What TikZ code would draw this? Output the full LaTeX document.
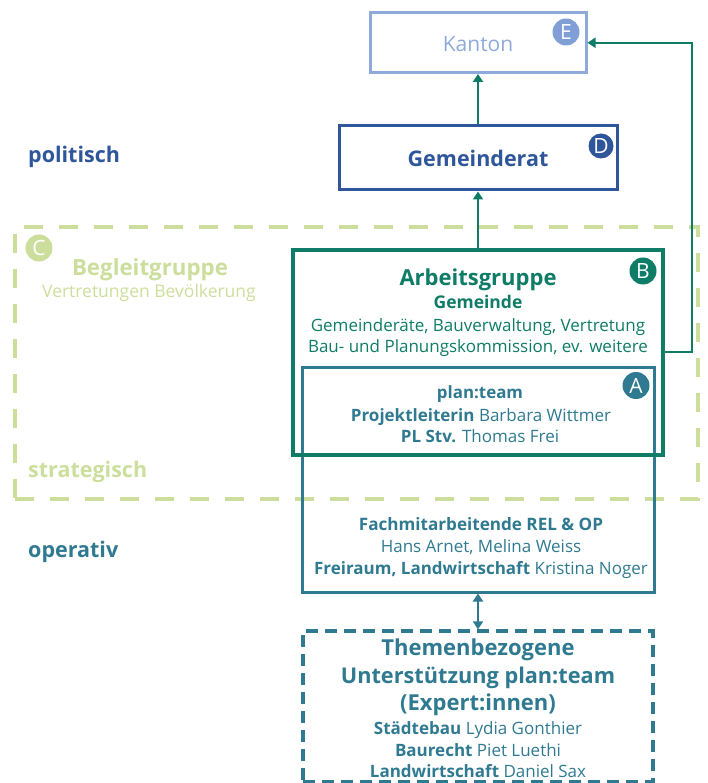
\documentclass[tikz,border=0pt]{standalone}
\usepackage{fontspec}
\setmainfont{Open Sans}
\usetikzlibrary{arrows.meta}
\definecolor{lblue}{HTML}{8EAADB}
\definecolor{ebadge}{HTML}{7F9FD6}
\definecolor{dblue}{HTML}{2F559A}
\definecolor{grn}{HTML}{0E7C66}
\definecolor{tealb}{HTML}{2F7A90}
\definecolor{lgrn}{HTML}{CCDE9C}
\newcommand\myfs[1]{\fontsize{#1}{#1}\selectfont}
\begin{document}
\begin{tikzpicture}[x=1pt,y=-1pt,
  box/.style={draw, rectangle, inner sep=0pt},
  txt/.style={anchor=base, inner sep=0pt},
  side/.style={anchor=base west, inner sep=0pt, font=\bfseries\myfs{21.5}},
  badge/.style={circle, inner sep=0pt, minimum size=27pt, text=white, font=\myfs{21}},
  arr/.style={grn, line width=2pt, -{Triangle[width=10pt,length=8pt]}},
  arrboth/.style={tealb, line width=2pt, {Triangle[width=10pt,length=8pt]}-{Triangle[width=10pt,length=8pt]}}]
\useasboundingbox (0,0) rectangle (707,783);

% Begleitgruppe (dashed)
\node[box, draw=lgrn, line width=4.5pt, dash pattern=on 19pt off 16pt,
      minimum width=683pt, minimum height=272pt] (begleit) at (356.5,363) {};

% boxes
\node[box, draw=lblue, line width=3pt, minimum width=216pt, minimum height=59.5pt] (kanton) at (478,42.75) {};
\node[box, draw=dblue, line width=3pt, minimum width=278pt, minimum height=64pt] (gemrat) at (478,158) {};
\node[box, draw=tealb, line width=3pt, minimum width=352pt, minimum height=225pt] (planteam) at (478,479.5) {};
\node[box, draw=grn, line width=3.2pt, minimum width=370pt, minimum height=205pt] (arbeit) at (478,352.5) {};
\node[box, draw=tealb, line width=3.2pt, dash pattern=on 12pt off 7pt,
      minimum width=350pt, minimum height=151pt] (themen) at (478,706.5) {};

% connectors
\draw[arr] (gemrat.north) -- (kanton.south);
\draw[arr] (arbeit.north) -- (gemrat.south);
\coordinate (bend) at (692,352);
\draw[arr] (arbeit.east |- bend) -- (bend) |- (kanton.east);
\draw[arrboth] (planteam.south) -- (themen.north);

% badges
\node[badge, fill=ebadge] (bE) at (566,32) {E};
\node[badge, fill=dblue, minimum size=25pt] (bD) at (601,146) {D};
\node[badge, fill=lgrn] (bC) at (39,248) {C};
\node[badge, fill=grn] (bB) at (643,271) {B};
\node[badge, fill=tealb] (bA) at (636,385.5) {A};

% texts
\node[txt, text=lblue, font=\myfs{21}] (tkanton) at (478,52) {Kanton};
\node[txt, text=dblue, font=\bfseries\myfs{21.5}] (tgemrat) at (478,167) {Gemeinderat};
\node[side, text=dblue] (tpol) at (28,163) {politisch};

\node[txt, text=lgrn, font=\bfseries\myfs{22.3}] (tbeg1) at (150,275) {Begleitgruppe};
\node[txt, text=lgrn, font=\myfs{17.5}] (tbeg2) at (149,297) {Vertretungen Bevölkerung};
\node[side, text=lgrn] (tstrat) at (28,477) {strategisch};

\node[txt, text=grn, font=\bfseries\myfs{22}] (tag1) at (478,285) {Arbeitsgruppe};
\node[txt, text=grn, font=\bfseries\myfs{17.5}] (tag2) at (478,308) {Gemeinde};
\node[txt, text=grn, font=\myfs{17}] (tag3) at (478,331) {Gemeinderäte, Bauverwaltung, Vertretung};
\node[txt, text=grn, font=\myfs{17}] (tag4) at (478,352) {Bau- und Planungskommission, ev. weitere};

\node[txt, text=tealb, font=\bfseries\myfs{16.9}] (tpt1) at (480,398) {plan:team};
\node[txt, text=tealb, font=\myfs{17}] (tpt2) at (481,421) {\textbf{Projektleiterin} Barbara Wittmer};
\node[txt, text=tealb, font=\myfs{17}] (tpt3) at (480,442) {\textbf{PL Stv.} Thomas Frei};
\node[txt, text=tealb, font=\bfseries\myfs{17.1}] (tpt4) at (481,530) {Fachmitarbeitende REL \& OP};
\node[txt, text=tealb, font=\myfs{17}] (tpt5) at (481,552) {Hans Arnet, Melina Weiss};
\node[txt, text=tealb, font=\myfs{17}] (tpt6) at (481,574) {\textbf{Freiraum, Landwirtschaft} Kristina Noger};
\node[side, text=tealb] (tops) at (28,557) {operativ};

\node[txt, text=tealb, font=\bfseries\myfs{22}] (tth1) at (478,655) {Themenbezogene};
\node[txt, text=tealb, font=\bfseries\myfs{21.7}] (tth2) at (478,683) {Unterstützung plan:team};
\node[txt, text=tealb, font=\bfseries\myfs{22}] (tth3) at (478,710) {(Expert:innen)};
\node[txt, text=tealb, font=\myfs{17}] (tth4) at (478,734) {\textbf{Städtebau} Lydia Gonthier};
\node[txt, text=tealb, font=\myfs{17}] (tth5) at (478,756) {\textbf{Baurecht} Piet Luethi};
\node[txt, text=tealb, font=\myfs{17}] (tth6) at (478,777) {\textbf{Landwirtschaft} Daniel Sax};
\end{tikzpicture}
\end{document}
